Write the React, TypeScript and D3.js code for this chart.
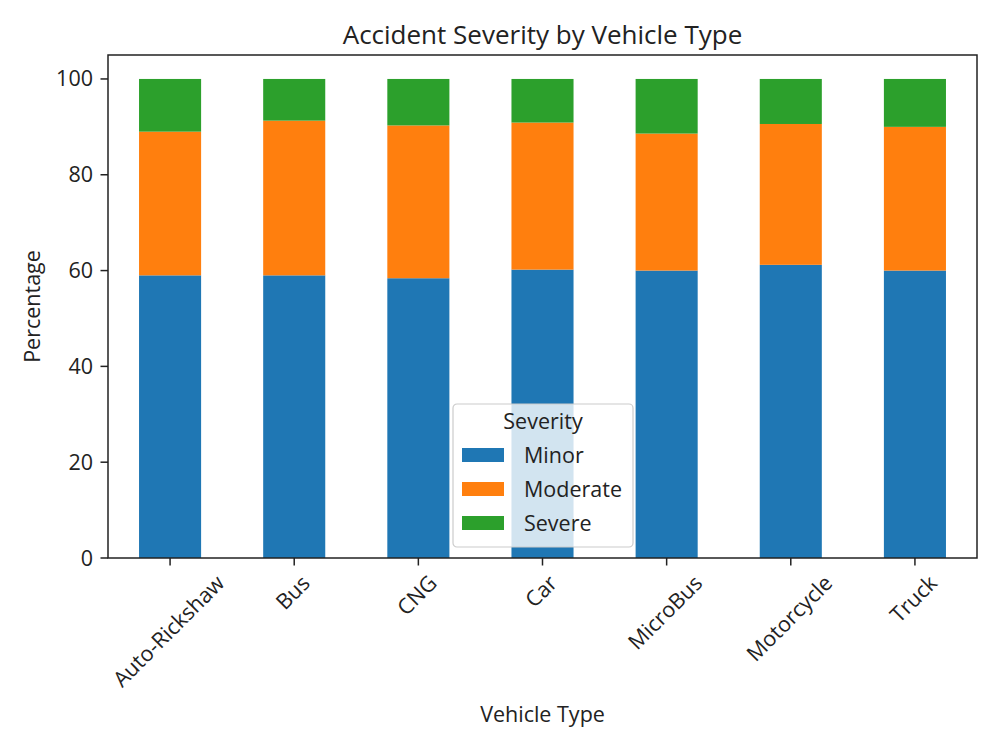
import React, { useEffect, useRef } from 'react'
import * as d3 from 'd3'

const categories = ['Auto-Rickshaw', 'Bus', 'CNG', 'Car', 'MicroBus', 'Motorcycle', 'Truck']
const severityLevels = ['Minor', 'Moderate', 'Severe']
const minorPct = [59.0, 59.0, 58.4, 60.2, 60.0, 61.2, 60.0]
const moderatePct = [30.0, 32.3, 31.9, 30.7, 28.6, 29.4, 30.0]
const severePct = [11.0, 8.7, 9.7, 9.1, 11.4, 9.4, 10.0]
const yTicks = [0, 20, 40, 60, 80, 100]
const colors = ['#1f77b4', '#ff7f0e', '#2ca02c']

const FONT = '"Open Sans", "Noto Sans", sans-serif'
const INK = '#222'

const App = () => {
  const ref = useRef<SVGSVGElement>(null)

  useEffect(() => {
    document.body.style.margin = '0'
    const width = 1000
    const height = 750
    const left = 108
    const right = 977
    const top = 55
    const bottom = 558
    const fs = 21.5
    const tickLen = 7.5
    const pad = 7.5

    const rows = categories.map((c, i) => ({
      type: c,
      Minor: minorPct[i],
      Moderate: moderatePct[i],
      Severe: severePct[i],
    }))
    const series = d3.stack<any>().keys(severityLevels)(rows)

    const x = d3.scaleBand().domain(categories).range([left, right]).paddingInner(0.5).paddingOuter(0.25)
    const y = d3.scaleLinear().domain([0, 105]).range([bottom, top])
    const color = d3.scaleOrdinal<string>().domain(severityLevels).range(colors)

    const svg = d3.select(ref.current)
    svg.selectAll('*').remove()
    svg.attr('width', width).attr('height', height).style('font-family', FONT)

    svg.append('rect').attr('width', width).attr('height', height).attr('fill', '#fff')

    // stacked bars
    svg
      .append('g')
      .selectAll('g')
      .data(series)
      .join('g')
      .attr('fill', d => color(d.key))
      .selectAll('rect')
      .data(d => d)
      .join('rect')
      .attr('x', d => x(d.data.type)!)
      .attr('width', x.bandwidth())
      .attr('y', d => y(d[1]))
      .attr('height', d => y(d[0]) - y(d[1]))

    // frame
    svg
      .append('rect')
      .attr('x', left)
      .attr('y', top)
      .attr('width', right - left)
      .attr('height', bottom - top)
      .attr('fill', 'none')
      .attr('stroke', INK)
      .attr('stroke-width', 1.5)

    // y axis
    const yAxis = svg.append('g')
    yAxis
      .selectAll('line')
      .data(yTicks)
      .join('line')
      .attr('x1', left - tickLen)
      .attr('x2', left)
      .attr('y1', d => y(d))
      .attr('y2', d => y(d))
      .attr('stroke', INK)
      .attr('stroke-width', 1.5)
    yAxis
      .selectAll('text')
      .data(yTicks)
      .join('text')
      .attr('x', left - tickLen - pad)
      .attr('y', d => y(d))
      .attr('dy', '0.35em')
      .attr('text-anchor', 'end')
      .attr('font-size', fs)
      .attr('fill', INK)
      .text(d => d)

    // x axis
    const xAxis = svg.append('g')
    xAxis
      .selectAll('line')
      .data(categories)
      .join('line')
      .attr('x1', d => x(d)! + x.bandwidth() / 2)
      .attr('x2', d => x(d)! + x.bandwidth() / 2)
      .attr('y1', bottom)
      .attr('y2', bottom + tickLen)
      .attr('stroke', INK)
      .attr('stroke-width', 1.5)

    const asc = fs * 0.76
    const desc = fs * 0.24
    xAxis
      .selectAll('text')
      .data(categories)
      .join('text')
      .attr('font-size', fs)
      .attr('fill', INK)
      .attr('text-anchor', 'end')
      .text(d => d)
      .each(function (d) {
        const w = (this as SVGTextElement).getComputedTextLength()
        const cx = x(d)! + x.bandwidth() / 2
        // centre the rotated box under the tick, top edge just below it
        const ax = cx + 0.3536 * (w + asc - desc)
        const ay = bottom + tickLen + pad + 0.7071 * asc
        d3.select(this).attr('transform', `translate(${ax},${ay}) rotate(-45)`)
      })

    // titles
    svg
      .append('text')
      .attr('x', (left + right) / 2)
      .attr('y', 44)
      .attr('text-anchor', 'middle')
      .attr('font-size', 26)
      .attr('fill', INK)
      .text('Accident Severity by Vehicle Type')
    svg
      .append('text')
      .attr('x', (left + right) / 2)
      .attr('y', 722)
      .attr('text-anchor', 'middle')
      .attr('font-size', fs)
      .attr('fill', INK)
      .text('Vehicle Type')
    svg
      .append('text')
      .attr('transform', `translate(40,${(top + bottom) / 2}) rotate(-90)`)
      .attr('text-anchor', 'middle')
      .attr('font-size', fs)
      .attr('fill', INK)
      .text('Percentage')

    // legend
    const lg = svg.append('g').attr('transform', 'translate(453,404)')
    lg.append('rect')
      .attr('width', 180)
      .attr('height', 143)
      .attr('rx', 4)
      .attr('fill', 'rgba(255,255,255,0.8)')
      .attr('stroke', '#ccc')
      .attr('stroke-width', 1.2)
    lg.append('text')
      .attr('x', 90)
      .attr('y', 24.5)
      .attr('text-anchor', 'middle')
      .attr('font-size', fs)
      .attr('fill', INK)
      .text('Severity')
    const items = lg
      .selectAll('g.item')
      .data(severityLevels)
      .join('g')
      .attr('class', 'item')
      .attr('transform', (_, i) => `translate(0,${51 + i * 34})`)
    items
      .append('rect')
      .attr('x', 9)
      .attr('y', -7)
      .attr('width', 42)
      .attr('height', 14)
      .attr('fill', d => color(d))
    items
      .append('text')
      .attr('x', 71)
      .attr('dy', '0.35em')
      .attr('font-size', fs)
      .attr('fill', INK)
      .text(d => d)
  }, [])

  return <svg ref={ref} />
}

export default App
